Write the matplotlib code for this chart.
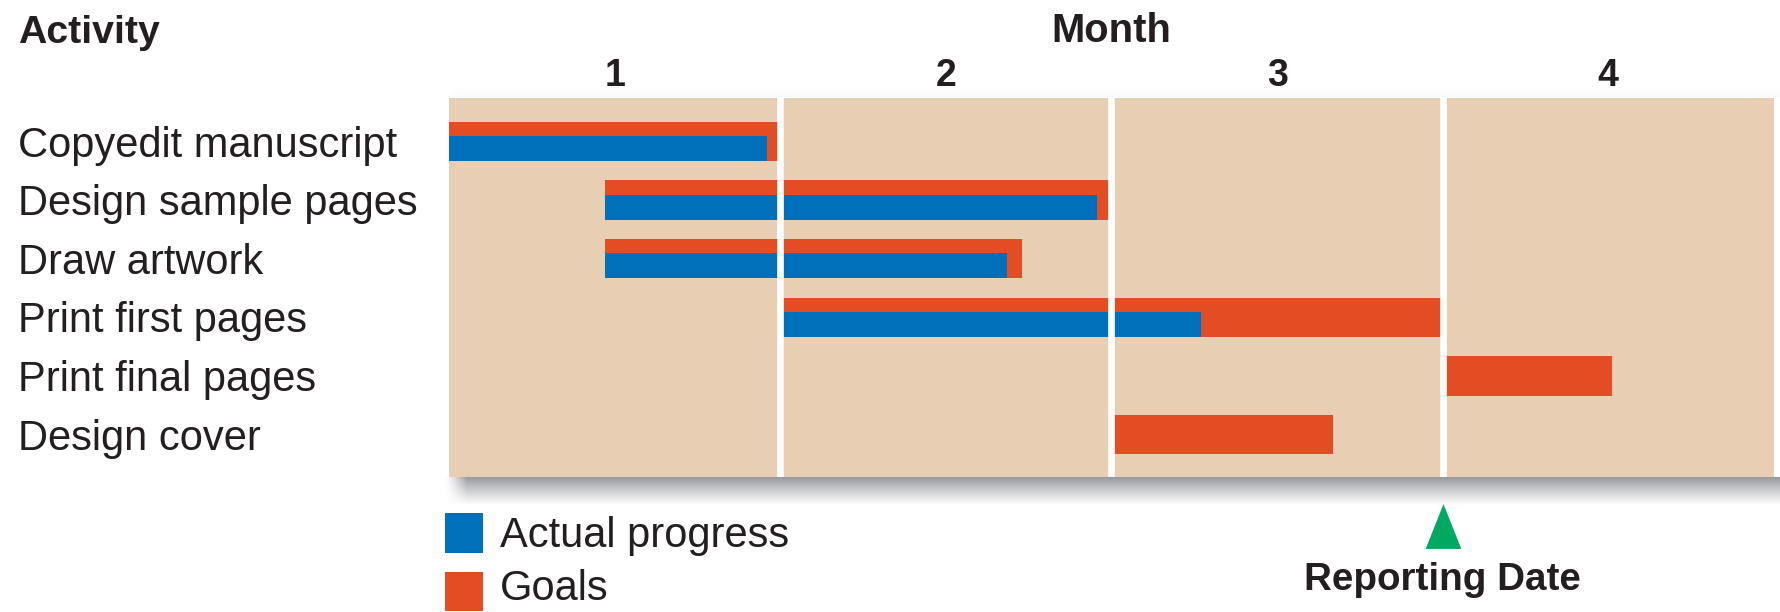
import matplotlib
matplotlib.use('Agg')
import matplotlib.pyplot as plt
import numpy as np
from matplotlib.transforms import blended_transform_factory
from matplotlib.patches import Rectangle
from matplotlib.path import Path

# ---------------- data ----------------
activities = ["Copyedit manuscript", "Design sample pages", "Draw artwork",
              "Print first pages", "Print final pages", "Design cover"]
goal_start = [0.0, 0.47, 0.47, 1.0, 3.0, 2.0]
goal_end = [1.0, 2.0, 1.73, 3.0, 3.51, 2.67]
actual_start = [0.0, 0.47, 0.47, 1.0]
actual_end = [0.96, 1.955, 1.685, 2.27]
months = ["1", "2", "3", "4"]
reporting_date = 3.0
legend_labels = ["Actual progress", "Goals"]

# ---------------- style ----------------
BEIGE = '#E8CFB4'
ORANGE = '#E44D24'
BLUE = '#0070BA'
GREEN = '#00A862'
TXT = '#231F20'

plt.rcParams['font.family'] = ['Liberation Sans', 'DejaVu Sans']

W, H = 1781, 612
DPI = 100
fig = plt.figure(figsize=(W / DPI, H / DPI), dpi=DPI)


def fx(px):
    return px / W


def fy(py):
    return 1 - py / H


left, right, top, bottom = 449, 1774, 97.5, 477


def shadow(x0, x1, y0, y1, alpha_fn, rgb=(0.57, 0.58, 0.60), edge_px=24.0):
    a = fig.add_axes([fx(x0), fy(y1), fx(x1) - fx(x0), (y1 - y0) / H], zorder=0)
    nh, nw = 80, 600
    t = np.linspace(0, 1, nh)[:, None]
    s = np.linspace(0, 1, nw)[None, :]
    edge = np.clip(s * (x1 - x0) / edge_px, 0, 1)
    img = np.zeros((nh, nw, 4))
    img[..., 0], img[..., 1], img[..., 2] = rgb
    img[..., 3] = alpha_fn(t) * (edge ** 1.3)
    a.imshow(img, aspect='auto', extent=[0, 1, 0, 1], interpolation='bilinear')
    a.set_axis_off()


# drop shadow under the panel
shadow(444, 1781, bottom, bottom + 29, lambda t: 0.95 * (1 - t) ** 1.15, edge_px=22.0)
# faint glow above the panel
shadow(440, 1781, top - 10, top, lambda t: 0.06 * t, rgb=(0.6, 0.6, 0.6))

# main panel
ax = fig.add_axes([fx(left), fy(bottom), fx(right) - fx(left), (bottom - top) / H], zorder=1)
ax.set_facecolor(BEIGE)
rows = np.arange(len(activities))
ax.set_xlim(0, 4)
ax.set_ylim(5.722, -0.748)

gs = np.array(goal_start)
ge = np.array(goal_end)
ax.barh(rows, ge - gs, left=gs, height=0.67, color=ORANGE, zorder=2)
as_ = np.array(actual_start)
ae = np.array(actual_end)
ax.barh(rows[:len(as_)] + 0.122, ae - as_, left=as_, height=0.426, color=BLUE, zorder=3)

for m in range(1, len(months)):
    ax.axvline(m, color='white', lw=4.8, zorder=4)

for sp in ax.spines.values():
    sp.set_visible(False)
ax.set_xticks([])
ax.set_yticks([])

# activity labels
tr_lab = blended_transform_factory(fig.transFigure, ax.transData)
for i, a in enumerate(activities):
    ax.text(fx(18), rows[i] + 0.258, a, transform=tr_lab, fontsize=30, color=TXT,
            ha='left', va='baseline', clip_on=False)

# month labels
tr_m = blended_transform_factory(ax.transData, fig.transFigure)
for i, m in enumerate(months):
    ax.text(i + 0.5, fy(86), m, transform=tr_m, fontsize=27, fontweight='bold', color=TXT,
            ha='center', va='baseline', clip_on=False)

fig.text(fx(18), fy(42.7), 'Activity', fontsize=28.3, fontweight='bold', color=TXT, ha='left', va='baseline')
fig.text(fx((left + right) / 2), fy(41.7), 'Month', fontsize=28.8, fontweight='bold', color=TXT,
         ha='center', va='baseline')

# legend
for (y0, y1, col, lab, base) in [(513.3, 552.7, BLUE, legend_labels[0], 546.7),
                                 (571.7, 611.0, ORANGE, legend_labels[1], 600.0)]:
    fig.patches.append(Rectangle((fx(445), fy(y1)), fx(483.3) - fx(445), (y1 - y0) / H,
                                 transform=fig.transFigure, facecolor=col, edgecolor='none'))
    fig.text(fx(500), fy(base), lab, fontsize=30, color=TXT, ha='left', va='baseline')

# reporting date marker
tri = Path([(0, 1), (-0.795, -1), (0.795, -1), (0, 1)],
           [Path.MOVETO, Path.LINETO, Path.LINETO, Path.CLOSEPOLY])
ax.plot([reporting_date], [fy(525.9)], transform=tr_m, marker=tri, markersize=32.3,
        color=GREEN, markeredgewidth=0, linestyle='none', clip_on=False)
ax.text(reporting_date, fy(590), 'Reporting Date', transform=tr_m, fontsize=27.8, fontweight='bold',
        color=TXT, ha='center', va='baseline', clip_on=False)

fig.savefig('out.png', dpi=DPI, facecolor='white')
